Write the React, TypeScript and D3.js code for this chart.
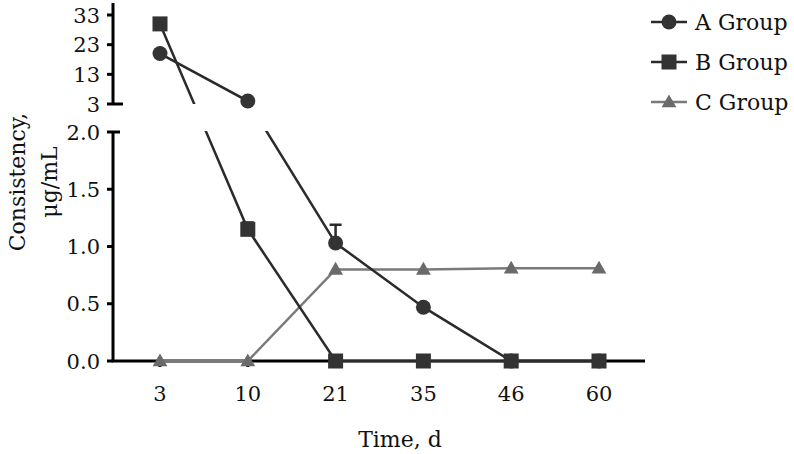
import React from "react";
import * as d3 from "d3";

// chart values
const days = ["3", "10", "21", "35", "46", "60"];
const groupA = [20, 4, 1.03, 0.47, 0, 0];
const groupAErr = [0, 0, 0.16, 0.03, 0, 0];
const groupB = [30, 1.15, 0, 0, 0, 0];
const groupBErr = [0, 0.06, 0, 0, 0, 0];
const groupC = [0, 0, 0.8, 0.8, 0.81, 0.81];
const upperTicks = [33, 23, 13, 3];
const lowerTicks = [2.0, 1.5, 1.0, 0.5, 0.0];
const legendNames = ["A Group", "B Group", "C Group"];

const FONT = "'DejaVu Serif', serif";
const DARK = "#2b2b2b";
const LIGHT = "#7a7a7a";

export default function App() {
  const axisX = 113;
  const axisY = 361;
  const x = d3.scalePoint<string>().domain(days).range([160, 599]);
  // broken axis: 0..2 in the lower panel, 3..33 in the upper panel
  const y = d3.scaleLinear().domain([0, 2, 3, 33]).range([axisY, 132, 104, 15]);

  const line = d3
    .line<number>()
    .x((_, i) => x(days[i]) as number)
    .y((d) => y(d));

  const tri = d3.symbol().type(d3.symbolTriangle).size(95)();

  const marker = (kind: string, cx: number, cy: number, key: string, fill: string) => {
    if (kind === "circle") return <circle key={key} cx={cx} cy={cy} r={7.5} fill={fill} />;
    if (kind === "square")
      return <rect key={key} x={cx - 7.5} y={cy - 7.5} width={15} height={15} fill={fill} />;
    return <path key={key} d={tri as string} transform={`translate(${cx},${cy + 1})`} fill={fill} />;
  };

  const errBar = (vals: number[], errs: number[], key: string) =>
    vals.map((v, i) =>
      errs[i] > 0 ? (
        <g key={key + i} stroke={DARK} strokeWidth={2.5}>
          <line x1={x(days[i])} x2={x(days[i])} y1={y(v)} y2={y(v + errs[i])} />
          <line x1={(x(days[i]) as number) - 6} x2={(x(days[i]) as number) + 6} y1={y(v + errs[i])} y2={y(v + errs[i])} />
        </g>
      ) : null
    );

  // drawing order: C under A under B
  const series = [
    { name: legendNames[2], vals: groupC, kind: "triangle", color: LIGHT, fill: "#6a6a6a" },
    { name: legendNames[0], vals: groupA, kind: "circle", color: DARK, fill: "#333" },
    { name: legendNames[1], vals: groupB, kind: "square", color: DARK, fill: "#333" },
  ];
  const legendOrder = [series[1], series[2], series[0]];

  return (
    <svg width={794} height={454} style={{ position: "absolute", left: 0, top: 0, background: "#fff" }}>
      <defs>
        <clipPath id="upper">
          <rect x={0} y={0} width={794} height={104} />
        </clipPath>
        <clipPath id="lower">
          <rect x={0} y={131} width={794} height={323} />
        </clipPath>
      </defs>

      {/* axes */}
      <g stroke="#000" strokeWidth={3}>
        <line x1={axisX} x2={axisX} y1={3} y2={104} />
        <line x1={axisX} x2={axisX} y1={132} y2={axisY} />
        <line x1={axisX - 1.5} x2={645} y1={axisY} y2={axisY} />
        {upperTicks.map((t) => (
          <line key={"ut" + t} x1={107} x2={t === 3 ? 123 : axisX} y1={y(t)} y2={y(t)} />
        ))}
        {lowerTicks.map((t) => (
          <line key={"lt" + t} x1={107} x2={t === 2 ? 120 : axisX} y1={y(t)} y2={y(t)} />
        ))}
        {days.map((d) => (
          <line key={"xt" + d} x1={x(d)} x2={x(d)} y1={axisY} y2={axisY + 6} />
        ))}
      </g>

      <g fontFamily={FONT} fontSize={21} fill="#111">
        {upperTicks.map((t) => (
          <text key={"ul" + t} x={100} y={y(t)} dy="0.36em" textAnchor="end">
            {t}
          </text>
        ))}
        {lowerTicks.map((t) => (
          <text key={"ll" + t} x={100} y={y(t)} dy="0.36em" textAnchor="end">
            {t.toFixed(1)}
          </text>
        ))}
        {days.map((d) => (
          <text key={"xl" + d} x={x(d)} y={401} textAnchor="middle">
            {d}
          </text>
        ))}
      </g>

      <g fontFamily={FONT} fontSize={22} fill="#111">
        <text x={400} y={447} textAnchor="middle">
          Time, d
        </text>
        <text transform="translate(25,182) rotate(-90)" textAnchor="middle">
          Consistency,
        </text>
        <text transform="translate(57,182) rotate(-90)" textAnchor="middle">
          μg/mL
        </text>
      </g>

      {/* lines, clipped to the two panels */}
      {["upper", "lower"].map((panel) => (
        <g key={panel} clipPath={`url(#${panel})`} fill="none" strokeWidth={2.5}>
          {series.map((s) => (
            <path key={s.kind} d={line(s.vals) as string} stroke={s.color} />
          ))}
        </g>
      ))}

      {errBar(groupA, groupAErr, "ea")}
      {errBar(groupB, groupBErr, "eb")}

      {series.map((s) =>
        s.vals.map((v, i) => marker(s.kind, x(days[i]) as number, y(v), s.kind + i, s.fill))
      )}

      {/* legend */}
      {legendOrder.map((s, i) => {
        const ly = [22, 62, 102][i];
        return (
          <g key={"lg" + i}>
            <line x1={651} x2={687} y1={ly} y2={ly} stroke={s.color} strokeWidth={2.5} />
            {marker(s.kind, 669, ly, "lm" + i, s.fill)}
            <text x={695} y={ly + 8} fontFamily={FONT} fontSize={22} fill="#111">
              {s.name}
            </text>
          </g>
        );
      })}
    </svg>
  );
}
